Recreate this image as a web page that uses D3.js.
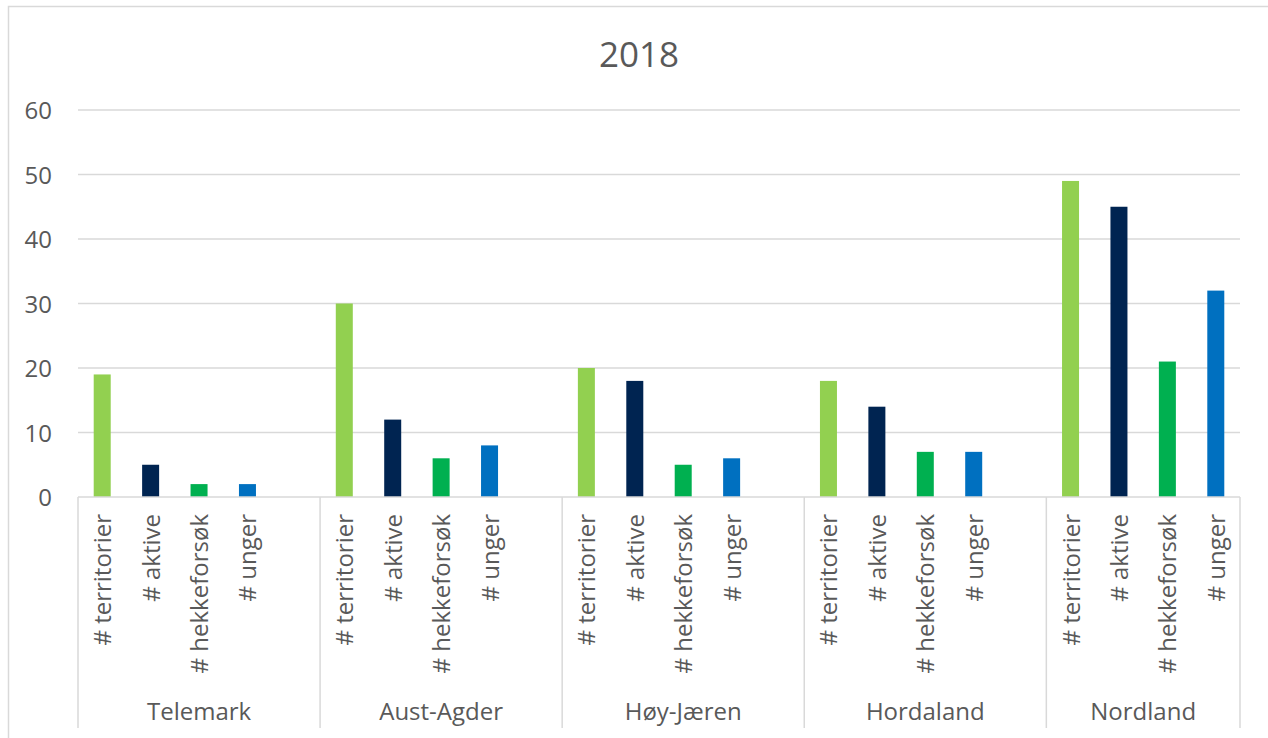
<!DOCTYPE html>
<html><head><meta charset="utf-8">
<script src="https://cdn.jsdelivr.net/npm/d3@7"></script>
<style>body{margin:0;background:#fff;font-family:"Open Sans",sans-serif;}</style>
</head><body><svg id="c" width="1268" height="738"></svg>
<script>
const title = "2018";
const groups = ["Telemark", "Aust-Agder", "Høy-Jæren", "Hordaland", "Nordland"];
const measures = ["# territorier", "# aktive", "# hekkeforsøk", "# unger"];
const values = [
  [19, 5, 2, 2],
  [30, 12, 6, 8],
  [20, 18, 5, 6],
  [18, 14, 7, 7],
  [49, 45, 21, 32]
];
const colors = ["#92D050", "#002451", "#00B050", "#0070C0"];
const yTicks = [0, 10, 20, 30, 40, 50, 60];

const svg = d3.select("#c");
const L = 78, R = 1240, T = 110, B = 497;
const grey = "#595959", lineC = "#d9d9d9";
const fs = "24px";

// outer border
svg.append("rect").attr("x", 8.5).attr("y", 6.5).attr("width", 1270).attr("height", 740)
  .attr("fill", "none").attr("stroke", lineC).attr("stroke-width", 1.5);

// slots: each group gets 4 measures + a blank slot, except last
const slots = [];
groups.forEach((g, gi) => {
  measures.forEach((m, mi) => slots.push({g, gi, m, mi, v: values[gi][mi], key: g + "|" + m}));
  if (gi < groups.length - 1) slots.push({g, gi, blank: true, key: g + "|blank"});
});
const x = d3.scaleBand().domain(slots.map(s => s.key)).range([L, R]).paddingInner(0).paddingOuter(0);
const y = d3.scaleLinear().domain([0, 60]).range([B, T]);

// gridlines
svg.append("g").selectAll("line").data(yTicks.filter(t => t > 0)).join("line")
  .attr("x1", L).attr("x2", R).attr("y1", d => y(d)).attr("y2", d => y(d))
  .attr("stroke", lineC).attr("stroke-width", 1.5);

// y axis labels
const yAxis = d3.axisLeft(y).tickValues(yTicks).tickSize(0).tickPadding(0);
const ya = svg.append("g").attr("transform", `translate(${L - 26},0)`).call(yAxis);
ya.select(".domain").remove();
ya.selectAll("text").attr("fill", grey).style("font-size", fs).style("font-family", "Open Sans").attr("dy", "0.36em");

// bars
const bw = 17;
svg.append("g").selectAll("rect").data(slots.filter(s => !s.blank)).join("rect")
  .attr("x", d => x(d.key) + x.bandwidth() / 2 - bw / 2)
  .attr("width", bw)
  .attr("y", d => y(d.v))
  .attr("height", d => B - y(d.v))
  .attr("fill", d => colors[d.mi]);

// x axis baseline
svg.append("line").attr("x1", L).attr("x2", R).attr("y1", B).attr("y2", B)
  .attr("stroke", lineC).attr("stroke-width", 1.5);

// group separators
const bounds = groups.map(g => x(g + "|" + measures[0])).concat([R]);
svg.append("g").selectAll("line").data(bounds).join("line")
  .attr("x1", d => d).attr("x2", d => d).attr("y1", B).attr("y2", 728)
  .attr("stroke", lineC).attr("stroke-width", 1.5);

// category labels (rotated)
svg.append("g").selectAll("text").data(slots.filter(s => !s.blank)).join("text")
  .attr("transform", d => `translate(${x(d.key) + x.bandwidth() / 2 + 9},514) rotate(-90)`)
  .attr("text-anchor", "end").attr("fill", grey)
  .style("font-size", fs).text(d => d.m);

// group labels
svg.append("g").selectAll("text").data(groups).join("text")
  .attr("x", (d, i) => (bounds[i] + bounds[i + 1]) / 2).attr("y", 720)
  .attr("text-anchor", "middle").attr("fill", grey).style("font-size", fs).text(d => d);

// title
svg.append("text").attr("x", 639).attr("y", 67).attr("text-anchor", "middle")
  .attr("fill", grey).style("font-size", "35px").text(title);
</script></body></html>
